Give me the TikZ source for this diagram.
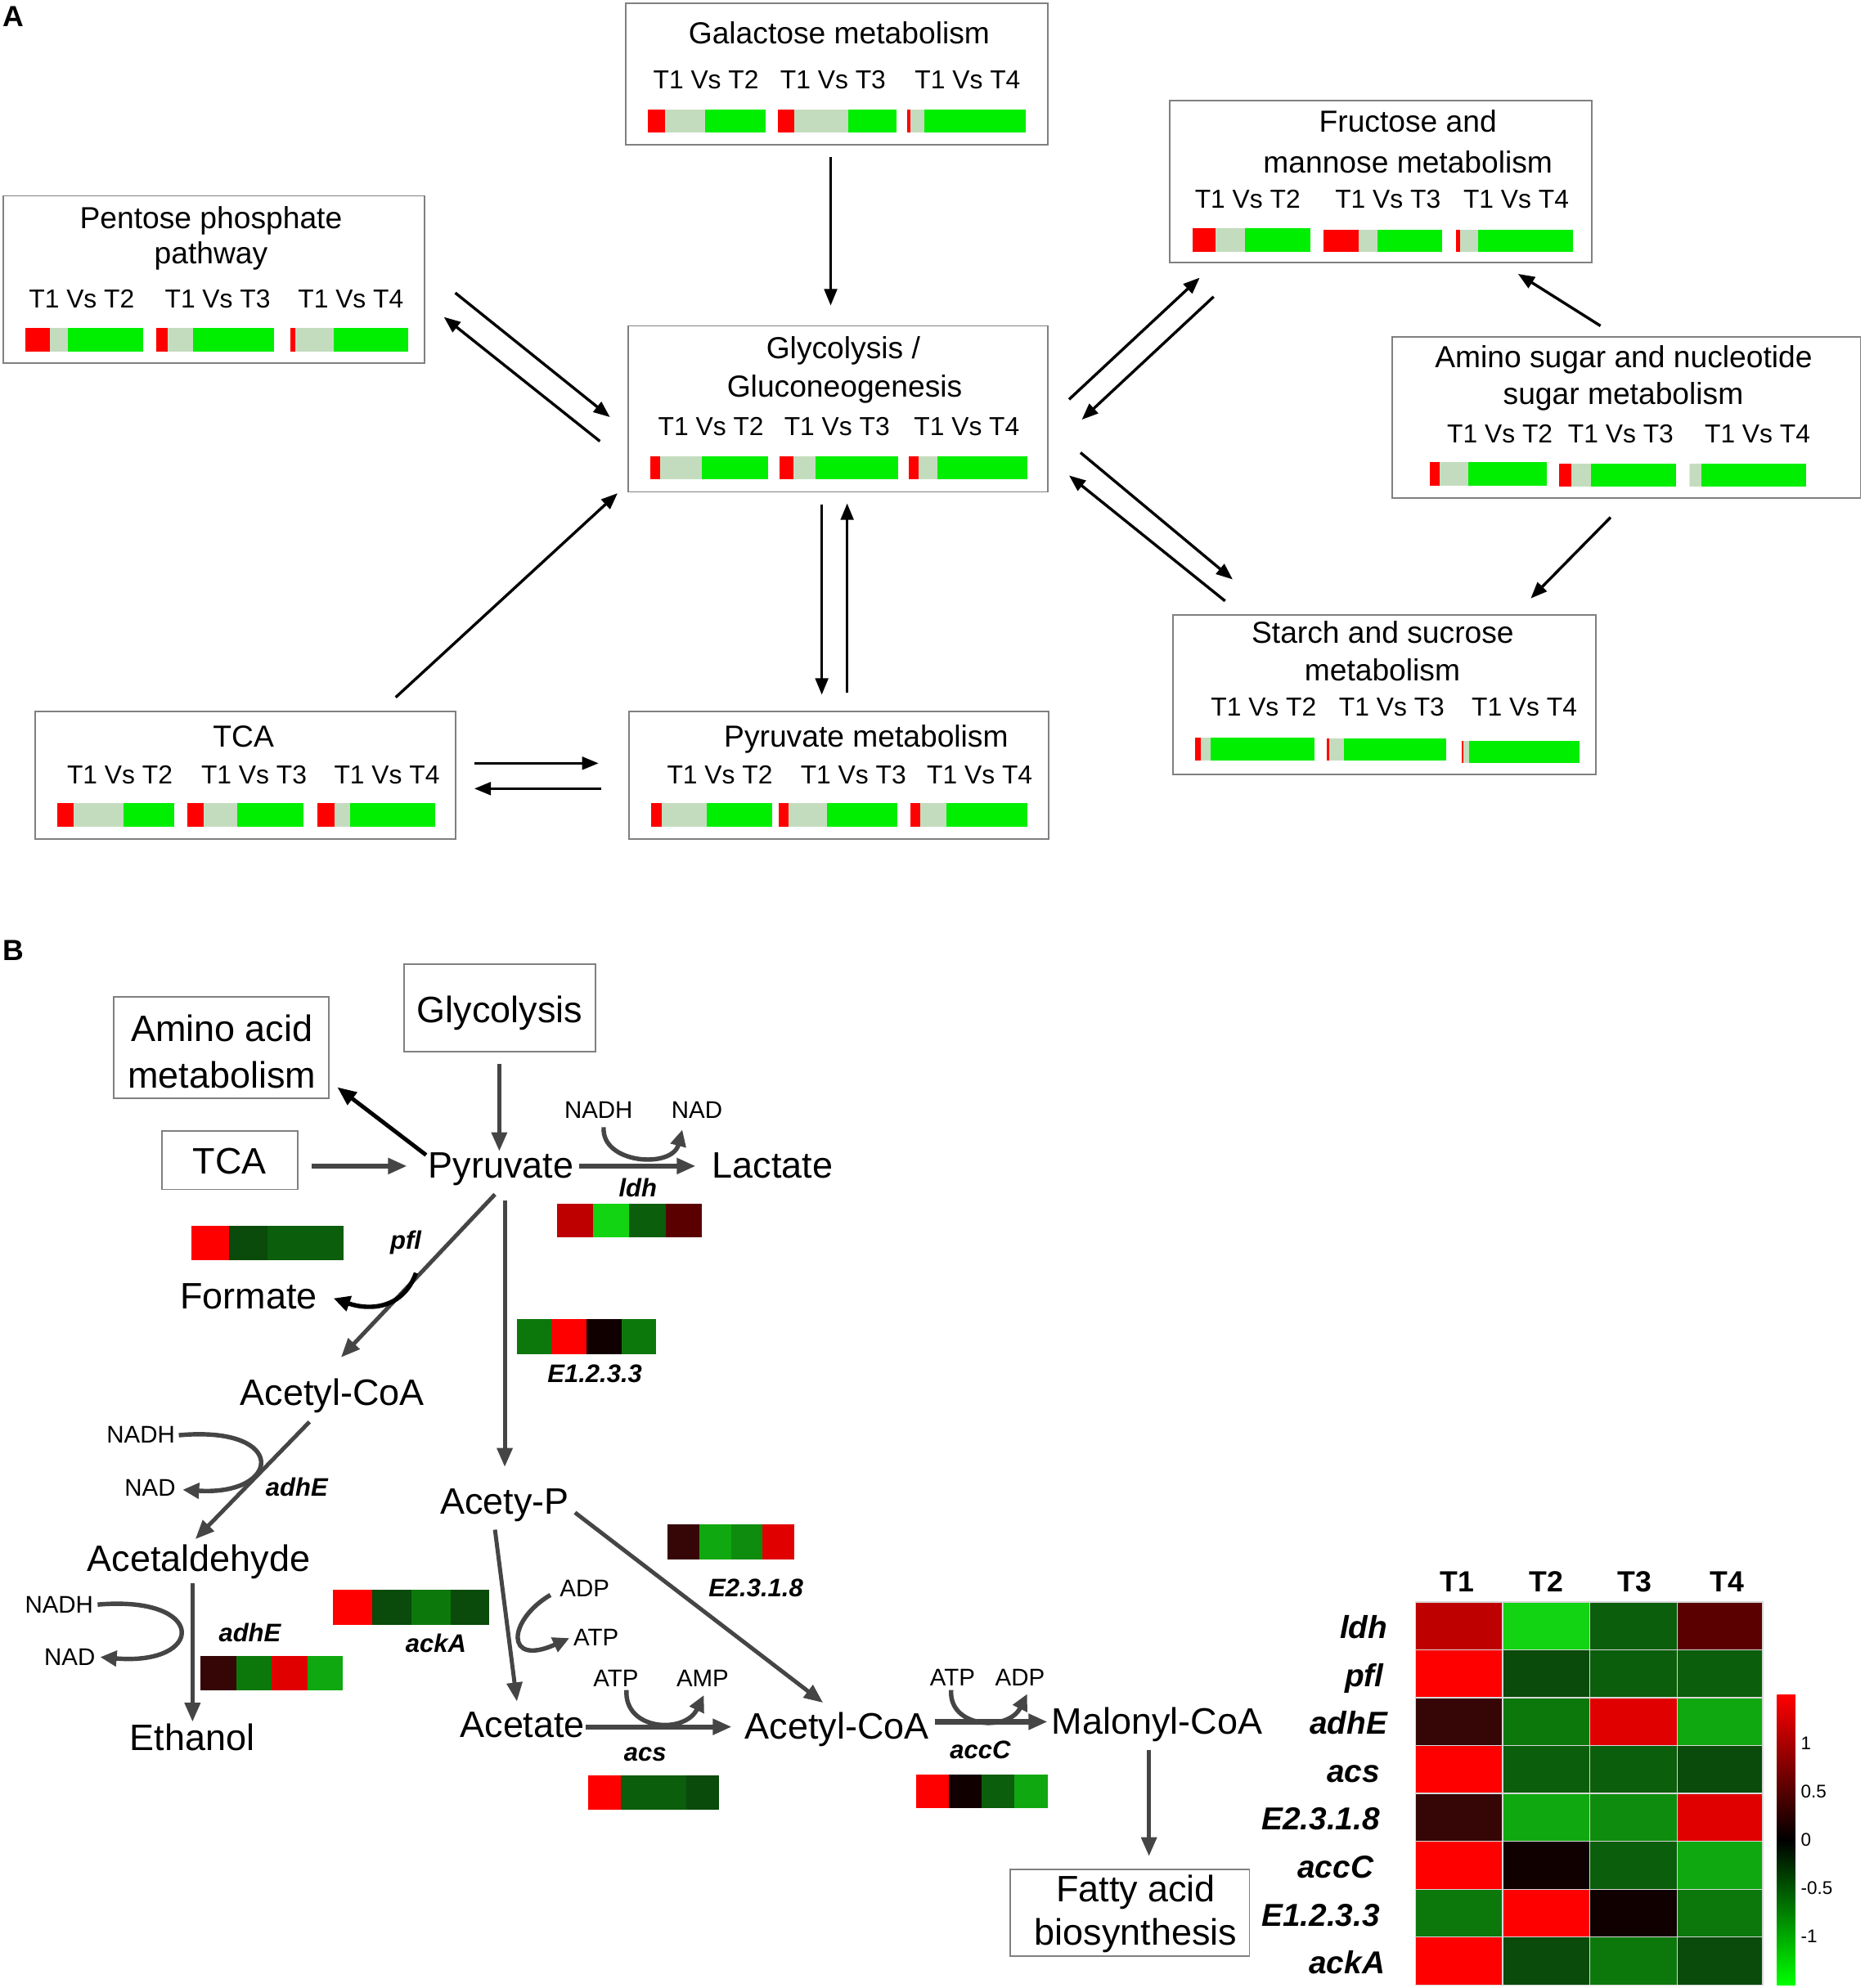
\documentclass[tikz,border=0pt]{standalone}
\usepackage{fontspec}
\setmainfont{Liberation Sans}
\usetikzlibrary{arrows.meta}
\definecolor{ared}{HTML}{FF0000}
\definecolor{agray}{HTML}{C4DCBE}
\definecolor{agreen}{HTML}{00EE00}
\definecolor{boxgray}{HTML}{808080}
\definecolor{bgray}{HTML}{454545}
\definecolor{cR}{HTML}{FF0000}
\definecolor{cRt}{HTML}{E00000}
\definecolor{cRd}{HTML}{BF0000}
\definecolor{cM}{HTML}{5A0000}
\definecolor{cMb}{HTML}{360606}
\definecolor{cK}{HTML}{110000}
\definecolor{cGb}{HTML}{12D412}
\definecolor{cG1}{HTML}{10A810}
\definecolor{cG2}{HTML}{0E8C0E}
\definecolor{cG3}{HTML}{0C780C}
\definecolor{cG4}{HTML}{0B5E0B}
\definecolor{cG5}{HTML}{0A4A0A}
\definecolor{cbgreen}{HTML}{00FF00}
\definecolor{hmline}{HTML}{D8D8D8}
\newcommand\abar[6]{%
  \pgfmathsetmacro\barxa{#1+(#3-#1)*#5}%
  \pgfmathsetmacro\barxb{#1+(#3-#1)*#6}%
  \fill[agray] (\barxa,#2) rectangle (\barxb,#4);
  \fill[agreen] (\barxb,#2) rectangle (#3,#4);
  \fill[ared] (#1,#2) rectangle (\barxa,#4);}
\newcommand\gstrip[8]{%
  \fill[#5] (#1,#2) rectangle ({#1+(#3-#1)/4},#4);
  \fill[#6] ({#1+(#3-#1)/4},#2) rectangle ({#1+(#3-#1)/2},#4);
  \fill[#7] ({#1+(#3-#1)/2},#2) rectangle ({#1+3*(#3-#1)/4},#4);
  \fill[#8] ({#1+3*(#3-#1)/4},#2) rectangle (#3,#4);}
\newcommand\boxnode[6][abox]{%
  \node[#1, minimum width={(#5-#3)*1pt}, minimum height={(#6-#4)*1pt}] (#2) at ({(#3+#5)/2},{(#4+#6)/2}) {};}
\newcommand\hmrow[5]{%
  \pgfmathsetmacro\hya{1263.5+#1*37.76}%
  \pgfmathsetmacro\hyb{1263.5+(#1+1)*37.76}%
  \filldraw[fill=#2,draw=hmline,line width=0.8pt] (1116.3,\hya) rectangle (1184.8,\hyb);
  \filldraw[fill=#3,draw=hmline,line width=0.8pt] (1184.8,\hya) rectangle (1253.6,\hyb);
  \filldraw[fill=#4,draw=hmline,line width=0.8pt] (1253.6,\hya) rectangle (1322.4,\hyb);
  \filldraw[fill=#5,draw=hmline,line width=0.8pt] (1322.4,\hya) rectangle (1390,\hyb);}
\begin{document}
\begin{tikzpicture}[x=1pt,y=-1pt,
  tx/.style={inner sep=0pt,outer sep=0pt,text depth=0pt},
  atitle/.style={tx,font=\fontsize{24}{24}\selectfont,text height=17.2pt},
  alab/.style={tx,font=\fontsize{20.5}{20.5}\selectfont,text height=14.7pt},
  abox/.style={draw=boxgray,line width=1.2pt,inner sep=0pt,outer sep=0pt},
  aarrow/.style={line width=2.2pt,-{Triangle[length=13pt,width=10pt]}},
  panlab/.style={tx,font=\fontsize{23}{23}\selectfont\bfseries,text height=16.5pt},
  bmet/.style={tx,font=\fontsize{29}{29}\selectfont,text height=20.8pt},
  bsm/.style={tx,font=\fontsize{19}{19}\selectfont,text height=13.6pt},
  bgene/.style={tx,font=\fontsize{20}{20}\selectfont\bfseries\itshape,text height=14.3pt},
  barrow/.style={draw=bgray,line width=3.2pt,-{Triangle[length=15pt,width=12pt]}},
  bthick/.style={barrow,line width=4pt},
  bcurve/.style={draw=bgray,line width=3.5pt,-{Triangle[length=13pt,width=12pt]}},
  hmlab/.style={tx,anchor=east,font=\fontsize{25}{25}\selectfont\bfseries\itshape,text height=18pt},
  hmhead/.style={tx,font=\fontsize{23}{23}\selectfont\bfseries,text height=16.5pt},
  cbtick/.style={tx,anchor=west,font=\fontsize{14.5}{14.5}\selectfont,text height=10.4pt},
]
\fill[white] (0,0) rectangle (1470,1568);
\useasboundingbox (0,0) rectangle (1470,1568);

%================ PANEL A =================
\node[panlab] (labA) at (10.5,12.5) {A};

% Galactose
\boxnode{galbox}{493.6}{2.5}{826}{114}
\node[atitle] (galT) at (661.7,26.1) {Galactose metabolism};
\node[alab] (galL1) at (556.7,62.5) {T1 Vs T2};
\node[alab] (galL2) at (656.9,62.5) {T1 Vs T3};
\node[alab] (galL3) at (763,62.5) {T1 Vs T4};
\abar{510.9}{86.3}{603.8}{104.5}{0.147}{0.486}
\abar{613.5}{86.3}{706.6}{104.5}{0.14}{0.592}
\abar{715.5}{86.3}{808.5}{104.5}{0.023}{0.14}

% Pentose
\boxnode{penbox}{2.6}{154.5}{335}{286.5}
\node[atitle] (penT1) at (166.4,171.5) {Pentose phosphate};
\node[atitle] (penT2) at (166.4,199.7) {pathway};
\node[alab] (penL1) at (64.4,235.6) {T1 Vs T2};
\node[alab] (penL2) at (171.6,235.6) {T1 Vs T3};
\node[alab] (penL3) at (276.6,235.6) {T1 Vs T4};
\abar{20}{258.6}{113}{277.2}{0.205}{0.361}
\abar{123.2}{258.6}{216.3}{277.2}{0.098}{0.312}
\abar{229}{258.6}{322.1}{277.2}{0.04}{0.364}

% Fructose
\boxnode{frubox}{922.6}{79.2}{1255}{207}
\node[atitle] (fruT1) at (1110.2,95.5) {Fructose and};
\node[atitle] (fruT2) at (1110.2,128.1) {mannose metabolism};
\node[alab] (fruL1) at (983.8,156.5) {T1 Vs T2};
\node[alab] (fruL2) at (1094.4,156.5) {T1 Vs T3};
\node[alab] (fruL3) at (1195.5,156.5) {T1 Vs T4};
\abar{940.6}{179.8}{1033}{198.5}{0.192}{0.446}
\abar{1043.9}{181.1}{1136.9}{198.9}{0.294}{0.457}
\abar{1147.8}{181.1}{1240.2}{198.9}{0.038}{0.192}

% Glycolysis
\boxnode{glybox}{495.1}{257}{826.5}{388}
\node[atitle] (glyT1) at (664.9,274.4) {Glycolysis /};
\node[atitle] (glyT2) at (666,304.8) {Gluconeogenesis};
\node[alab] (glyL1) at (560.6,336.4) {T1 Vs T2};
\node[alab] (glyL2) at (660,336.4) {T1 Vs T3};
\node[alab] (glyL3) at (762.3,336.4) {T1 Vs T4};
\abar{512.9}{359.6}{605.9}{377.8}{0.079}{0.438}
\abar{614.8}{359.6}{707.9}{377.8}{0.119}{0.301}
\abar{716.8}{359.6}{809.8}{377.8}{0.079}{0.238}

% Amino sugar
\boxnode{amibox}{1098}{266}{1467}{393}
\node[atitle] (amiT1) at (1280.3,281.3) {Amino sugar and nucleotide};
\node[atitle] (amiT2) at (1280,310.3) {sugar metabolism};
\node[alab] (amiL1) at (1182.7,341.6) {T1 Vs T2};
\node[alab] (amiL2) at (1278,341.6) {T1 Vs T3};
\node[alab] (amiL3) at (1385.8,341.6) {T1 Vs T4};
\abar{1127.5}{364.5}{1219.4}{383}{0.085}{0.327}
\abar{1229.6}{365.8}{1321.5}{383.8}{0.103}{0.271}
\abar{1332.4}{365.8}{1424.4}{383.8}{0}{0.103}

% Starch
\boxnode{stabox}{924.8}{484.8}{1258.4}{611}
\node[atitle] (staT1) at (1090.3,498.5) {Starch and sucrose};
\node[atitle] (staT2) at (1090,528.2) {metabolism};
\node[alab] (staL1) at (996.4,557.6) {T1 Vs T2};
\node[alab] (staL2) at (1097.4,557.6) {T1 Vs T3};
\node[alab] (staL3) at (1202,557.6) {T1 Vs T4};
\abar{942.6}{581.5}{1036.3}{600}{0.046}{0.125}
\abar{1046.5}{582.2}{1140.2}{600}{0.014}{0.141}
\abar{1152.3}{584.1}{1245.8}{601.9}{0.014}{0.067}

% TCA
\boxnode{tcabox}{28}{561}{359.5}{661.5}
\node[atitle] (tcaT) at (192,580.4) {TCA};
\node[alab] (tcaL1) at (94.5,610.6) {T1 Vs T2};
\node[alab] (tcaL2) at (200.3,610.6) {T1 Vs T3};
\node[alab] (tcaL3) at (305.1,610.6) {T1 Vs T4};
\abar{45.2}{633.1}{137.7}{652}{0.139}{0.567}
\abar{148}{633.1}{239.4}{652}{0.135}{0.427}
\abar{250.2}{633.1}{343}{652}{0.144}{0.282}

% Pyruvate
\boxnode{pyrbox}{496}{561}{827}{661.5}
\node[atitle] (pyrT) at (683,580.4) {Pyruvate metabolism};
\node[alab] (pyrL1) at (567.6,610.6) {T1 Vs T2};
\node[alab] (pyrL2) at (672.9,610.6) {T1 Vs T3};
\node[alab] (pyrL3) at (772.5,610.6) {T1 Vs T4};
\abar{513.6}{633.1}{608.7}{652}{0.086}{0.459}
\abar{614.3}{633.1}{707.3}{652}{0.077}{0.409}
\abar{717.6}{633.1}{810}{652}{0.089}{0.311}

% Panel A connectors
\coordinate (a1s) at (655,124);   \coordinate (a1e) at (655,241);
\coordinate (a2s) at (359,231);   \coordinate (a2e) at (481,329);
\coordinate (a3s) at (473,348);   \coordinate (a3e) at (350,250);
\coordinate (a4s) at (843,315);   \coordinate (a4e) at (946,219);
\coordinate (a5s) at (957,234);   \coordinate (a5e) at (853,331);
\coordinate (a6s) at (852,357);   \coordinate (a6e) at (972,457);
\coordinate (a7s) at (966,474);   \coordinate (a7e) at (843,375);
\coordinate (a8s) at (1262,257);  \coordinate (a8e) at (1197,216);
\coordinate (a9s) at (1270,408);  \coordinate (a9e) at (1207,472);
\coordinate (a10s) at (648,398);  \coordinate (a10e) at (648,548);
\coordinate (a11s) at (668,546);  \coordinate (a11e) at (668,397);
\coordinate (a12s) at (312,550);  \coordinate (a12e) at (487,389);
\coordinate (a13s) at (374,602);  \coordinate (a13e) at (472,602);
\coordinate (a14s) at (474,622);  \coordinate (a14e) at (374,622);
\foreach \k in {1,...,14} {\draw[aarrow] (a\k s) -- (a\k e);}

%================ PANEL B =================
\node[panlab] (labB) at (10.5,749) {B};

\boxnode[abox]{aabox}{89.8}{786.4}{259.3}{866.3}
\node[bmet] (aa1) at (175,811) {Amino acid};
\node[bmet] (aa2) at (175,848) {metabolism};
\boxnode[abox]{glyB}{318.7}{760.5}{469.6}{829.5}
\node[bmet] (glyBt) at (394,796) {Glycolysis};
\boxnode[abox]{tcaB}{127.5}{892.2}{235}{938.1}
\node[bmet] (tcaBt) at (181,915.6) {TCA};

\node[bmet] (pyruvate) at (395,918.5) {Pyruvate};
\node[bmet] (lactate) at (609.3,918.5) {Lactate};
\node[bsm] (nadh0) at (472,875) {NADH};
\node[bsm] (nad0) at (549.5,875) {NAD};
\node[bgene] (ldh) at (503,937) {ldh};
\node[bgene] (pfl) at (320,978) {pfl};
\node[bmet] (formate) at (196,1022) {Formate};
\node[bgene] (e1233) at (469,1083) {E1.2.3.3};
\node[bmet] (acoa1) at (262,1098) {Acetyl-CoA};
\node[bsm] (nadh1) at (111,1131) {NADH};
\node[bsm] (nad1) at (118.4,1173) {NAD};
\node[bgene] (adhE1) at (234,1173) {adhE};
\node[bmet] (acald) at (156.7,1229) {Acetaldehyde};
\node[bsm] (nadh2) at (46.6,1265.6) {NADH};
\node[bsm] (nad2) at (55,1307) {NAD};
\node[bgene] (adhE2) at (197,1287.5) {adhE};
\node[bmet] (ethanol) at (151.5,1370) {Ethanol};
\node[bmet] (acetyp) at (398,1184) {Acety-P};
\node[bsm] (adp1) at (461,1252.7) {ADP};
\node[bsm] (atp1) at (470,1291.4) {ATP};
\node[bgene] (ackA) at (343.7,1296) {ackA};
\node[bgene] (e2318) at (596,1252.5) {E2.3.1.8};
\node[bsm] (atp2) at (485.7,1323.7) {ATP};
\node[bsm] (amp2) at (554,1323.7) {AMP};
\node[bmet] (acetate) at (412,1360.2) {Acetate};
\node[bgene] (acs) at (508.7,1382) {acs};
\node[bmet] (acoa2) at (660,1361) {Acetyl-CoA};
\node[bsm] (atp3) at (751,1322.7) {ATP};
\node[bsm] (adp3) at (804.3,1322.7) {ADP};
\node[bgene] (accC) at (773,1380) {accC};
\node[bmet] (malonyl) at (912.4,1357) {Malonyl-CoA};
\boxnode[abox]{fabox}{796.7}{1474.3}{985.2}{1543}
\node[bmet] (fa1) at (895.6,1489.5) {Fatty acid};
\node[bmet] (fa2) at (895.6,1524) {biosynthesis};

% strips
\gstrip{439.3}{949.6}{553.3}{975.8}{cRd}{cGb}{cG4}{cM}
\gstrip{150.9}{966.6}{270.6}{993.9}{cR}{cG5}{cG4}{cG4}
\gstrip{407.6}{1040.3}{517.3}{1068.3}{cG3}{cR}{cK}{cG3}
\gstrip{158.3}{1305.8}{270.2}{1333.3}{cMb}{cG3}{cRt}{cG1}
\gstrip{262.4}{1253.8}{386}{1281.7}{cR}{cG5}{cG3}{cG5}
\gstrip{526.3}{1202}{626.4}{1229.7}{cMb}{cG1}{cG2}{cRt}
\gstrip{464}{1400}{567}{1427.5}{cR}{cG4}{cG4}{cG5}
\gstrip{722.2}{1399.6}{826}{1426}{cR}{cK}{cG4}{cG1}

% Panel B connectors
\coordinate (b1s) at (393.7,839);  \coordinate (b1e) at (393.7,908);
\draw[barrow] (b1s) -- (b1e);
\coordinate (b2s) at (246,919.7);  \coordinate (b2e) at (321,919.7);
\draw[bthick] (b2s) -- (b2e);
\coordinate (b3s) at (336,911);    \coordinate (b3e) at (266,857.5);
\draw[barrow,draw=black] (b3s) -- (b3e);
\coordinate (b4s) at (456.6,919.7); \coordinate (b4e) at (548.6,919.7);
\draw[bthick] (b4s) -- (b4e);
\coordinate (b5s) at (390.3,942);  \coordinate (b5e) at (268.9,1070.6);
\draw[barrow] (b5s) -- (b5e);
\coordinate (b6s) at (398,946.6);  \coordinate (b6e) at (398,1157);
\draw[barrow] (b6s) -- (b6e);
\coordinate (b7s) at (244,1121.5); \coordinate (b7e) at (154,1214);
\draw[barrow] (b7s) -- (b7e);
\coordinate (b8s) at (151.8,1248.4); \coordinate (b8e) at (151.8,1358);
\draw[barrow] (b8s) -- (b8e);
\coordinate (b9s) at (390.3,1206.5); \coordinate (b9e) at (407.6,1342);
\draw[barrow] (b9s) -- (b9e);
\coordinate (b10s) at (453.4,1193); \coordinate (b10e) at (649,1343);
\draw[barrow] (b10s) -- (b10e);
\coordinate (b11s) at (461.8,1362); \coordinate (b11e) at (577,1362);
\draw[bthick] (b11s) -- (b11e);
\coordinate (b12s) at (737,1358); \coordinate (b12e) at (826,1358);
\draw[bthick] (b12s) -- (b12e);
\coordinate (b13s) at (906,1380); \coordinate (b13e) at (906,1464);
\draw[barrow] (b13s) -- (b13e);

% cofactor curves
\coordinate (c1s) at (476,889);   \coordinate (c1e) at (538,891);
\draw[bcurve] (c1s) .. controls (474,918) and (530,922) .. (c1e);
\coordinate (c2s) at (328,1004);  \coordinate (c2e) at (263,1024);
\draw[bcurve,draw=black] (c2s) .. controls (318,1032) and (292,1034) .. (c2e);
\coordinate (c3s) at (141,1132);  \coordinate (c3e) at (144,1175);
\draw[bcurve] (c3s) .. controls (228,1124) and (222,1180) .. (c3e);
\coordinate (c4s) at (77,1265.6); \coordinate (c4e) at (79,1307);
\draw[bcurve] (c4s) .. controls (164,1258) and (162,1314) .. (c4e);
\coordinate (c5s) at (434,1258);  \coordinate (c5e) at (449,1292);
\draw[bcurve] (c5s) .. controls (400,1278) and (398,1315) .. (c5e);
\coordinate (c6s) at (494,1333);  \coordinate (c6e) at (555,1337);
\draw[bcurve] (c6s) .. controls (492,1365) and (540,1368) .. (c6e);
\coordinate (c7s) at (750,1333);  \coordinate (c7e) at (810,1336);
\draw[bcurve] (c7s) .. controls (748,1363) and (795,1366) .. (c7e);

%================ HEATMAP =================
\node[hmhead] (hT1) at (1148.9,1247) {T1};
\node[hmhead] (hT2) at (1219.2,1247) {T2};
\node[hmhead] (hT3) at (1289,1247) {T3};
\node[hmhead] (hT4) at (1362.1,1247) {T4};
\hmrow{0}{cRd}{cGb}{cG4}{cM}
\hmrow{1}{cR}{cG5}{cG4}{cG4}
\hmrow{2}{cMb}{cG3}{cRt}{cG1}
\hmrow{3}{cR}{cG4}{cG4}{cG5}
\hmrow{4}{cMb}{cG1}{cG2}{cRt}
\hmrow{5}{cR}{cK}{cG4}{cG1}
\hmrow{6}{cG3}{cR}{cK}{cG3}
\hmrow{7}{cR}{cG5}{cG3}{cG5}
\node[hmlab] (rl0) at (1094,1283.4) {ldh};
\node[hmlab] (rl1) at (1091,1321.1) {pfl};
\node[hmlab] (rl2) at (1094,1358.9) {adhE};
\node[hmlab] (rl3) at (1088,1396.7) {acs};
\node[hmlab] (rl4) at (1088,1434.4) {E2.3.1.8};
\node[hmlab] (rl5) at (1083,1472.2) {accC};
\node[hmlab] (rl6) at (1088,1510) {E1.2.3.3};
\node[hmlab] (rl7) at (1092,1547.7) {ackA};
% colour bar
\shade[top color=ared, bottom color=cbgreen, middle color=black] (1401.2,1336.8) rectangle (1415.6,1565.6);
\node[cbtick] (tk1) at (1420,1375) {1};
\node[cbtick] (tk2) at (1420,1413) {0.5};
\node[cbtick] (tk3) at (1420,1451) {0};
\node[cbtick] (tk4) at (1420,1489) {-0.5};
\node[cbtick] (tk5) at (1420,1527) {-1};
\end{tikzpicture}
\end{document}
